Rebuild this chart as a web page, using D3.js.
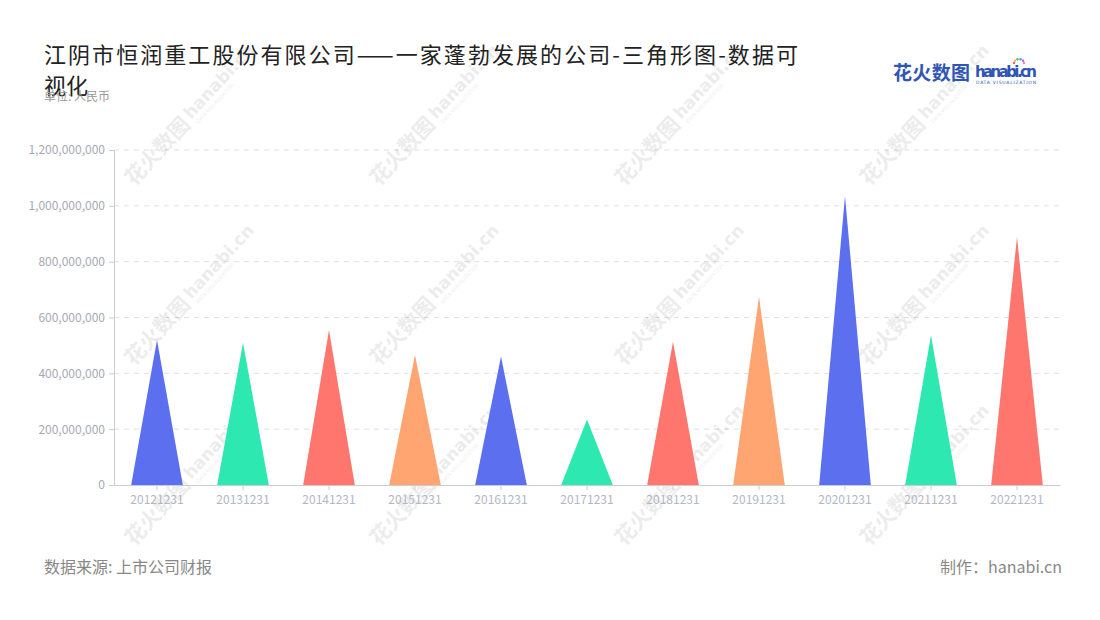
<!DOCTYPE html>
<html>
<head>
<meta charset="utf-8">
<script src="https://cdn.jsdelivr.net/npm/d3@7"></script>
<style>
  html, body { margin: 0; padding: 0; background: #fff; }
  svg { display: block; font-family: "Noto Sans CJK SC", "Noto Sans", sans-serif; }
</style>
</head>
<body>
<svg id="chart" width="1100" height="620"></svg>
<script>
const categories = ["20121231","20131231","20141231","20151231","20161231","20171231","20181231","20191231","20201231","20211231","20221231"];
const values = [519000000, 510000000, 555000000, 466000000, 460000000, 235000000, 513000000, 674000000, 1035000000, 536000000, 888000000];
const yTicks = [0, 200000000, 400000000, 600000000, 800000000, 1000000000, 1200000000];
const palette = ["#5b6fef", "#2de8b0", "#ff766f", "#ffa571"];
const titleLines = ["江阴市恒润重工股份有限公司——一家蓬勃发展的公司-三角形图-数据可", "视化"];
const subtitle = "单位: 人民币";
const sourceText = "数据来源: 上市公司财报";
const makerText = "制作：hanabi.cn";

const svg = d3.select("#chart");
const W = 1100, H = 620;
const m = { left: 114, right: 1060, top: 150, bottom: 485 };

svg.append("rect").attr("width", W).attr("height", H).attr("fill", "#fff");

const x = d3.scaleBand().domain(categories).range([m.left, m.right]).padding(0);
const y = d3.scaleLinear().domain([0, 1200000000]).range([m.bottom, m.top]);

// grid
svg.append("g").selectAll("line").data(yTicks.filter(d => d > 0)).join("line")
  .attr("x1", m.left).attr("x2", m.right)
  .attr("y1", d => y(d)).attr("y2", d => y(d))
  .attr("stroke", "#e0e0e0").attr("stroke-dasharray", "5,5").attr("stroke-width", 1);

// watermarks
const wmCols = [182, 427, 672, 917];
const wmRows = [125, 305, 485];
const wm = svg.append("g").attr("pointer-events", "none");
wmRows.forEach(cy => wmCols.forEach(cx => {
  const g = wm.append("g").attr("transform", `translate(${cx},${cy}) rotate(-47)`).attr("opacity", 0.085);
  g.append("text").attr("x", -78).attr("y", 7).attr("font-size", 21).attr("font-weight", "bold")
    .attr("fill", "#333").text("花火数图");
  g.append("text").attr("x", 10).attr("y", 3).attr("font-size", 17).attr("font-weight", "bold")
    .attr("font-family", "'DejaVu Sans', sans-serif").attr("fill", "#333").text("hanabi.cn");
  g.append("text").attr("x", 12).attr("y", 11).attr("font-size", 5)
    .attr("font-family", "'DejaVu Sans', sans-serif").attr("fill", "#333").text("DATA VISUALIZATION");
}));

// triangles
const halfBase = x.bandwidth() * 0.3;
svg.append("g").selectAll("path").data(categories).join("path")
  .attr("d", (c, i) => {
    const cx = x(c) + x.bandwidth() / 2;
    return `M${cx - halfBase},${y(0)} L${cx},${y(values[i])} L${cx + halfBase},${y(0)} Z`;
  })
  .attr("fill", (c, i) => palette[i % palette.length]);

// y axis
const yAxis = svg.append("g").attr("transform", `translate(${m.left},0)`)
  .call(d3.axisLeft(y).tickValues(yTicks).tickSize(5).tickPadding(4).tickFormat(d3.format(",")));
yAxis.select(".domain").attr("stroke", "#ccc");
yAxis.selectAll(".tick line").attr("stroke", "#ccc");
yAxis.selectAll(".tick text").attr("fill", "#a6a9b3").attr("font-size", 12)
  .attr("font-family", "'Noto Sans CJK SC', sans-serif");

// x axis
const xAxis = svg.append("g").attr("transform", `translate(0,${m.bottom})`)
  .call(d3.axisBottom(x).tickSize(5).tickPadding(5).tickSizeOuter(0));
xAxis.select(".domain").attr("stroke", "#ccc");
xAxis.selectAll(".tick line").attr("stroke", "#ccc");
xAxis.selectAll(".tick text").attr("fill", "#b3b7c4").attr("font-size", 12)
  .attr("font-family", "'Noto Sans CJK SC', sans-serif");

// title
const title = svg.append("text").attr("x", 44).attr("font-size", 22).attr("fill", "#222");
title.append("tspan").attr("x", 44).attr("y", 63).attr("textLength", 754).attr("lengthAdjust", "spacing").text(titleLines[0]);
title.append("tspan").attr("x", 44).attr("y", 94).text(titleLines[1]);
svg.append("text").attr("x", 44).attr("y", 101).attr("font-size", 12).attr("fill", "#999").text(subtitle);

// logo
svg.append("text").attr("x", 893).attr("y", 80).attr("font-size", 19).attr("font-weight", "bold")
  .attr("fill", "#2f55b5").attr("textLength", 77).text("花火数图");
svg.append("text").attr("x", 975).attr("y", 77).attr("font-size", 15).attr("font-weight", "bold")
  .attr("font-family", "'DejaVu Sans', sans-serif").attr("fill", "#2f55b5").attr("textLength", 62).text("hanabi.cn");
svg.append("text").attr("x", 976).attr("y", 84).attr("font-size", 4.5)
  .attr("font-family", "'DejaVu Sans', sans-serif").attr("fill", "#2f55b5").attr("textLength", 60).text("DATA VISUALIZATION");
const dotColors = ["#ff5a5a", "#ffb33b", "#3ec46d", "#3aa0ff", "#b05cff", "#ff7ab8"];
dotColors.forEach((c, i) => {
  const a = -Math.PI + i * Math.PI / 5;
  svg.append("circle").attr("cx", 1019 + Math.cos(a) * 5).attr("cy", 63 + Math.sin(a) * 4).attr("r", 1.2).attr("fill", c);
});

// footer
svg.append("text").attr("x", 44).attr("y", 573).attr("font-size", 16).attr("fill", "#888").text(sourceText);
svg.append("text").attr("x", 1062).attr("y", 573).attr("font-size", 16).attr("fill", "#888")
  .attr("text-anchor", "end").text(makerText);
</script>
</body>
</html>
